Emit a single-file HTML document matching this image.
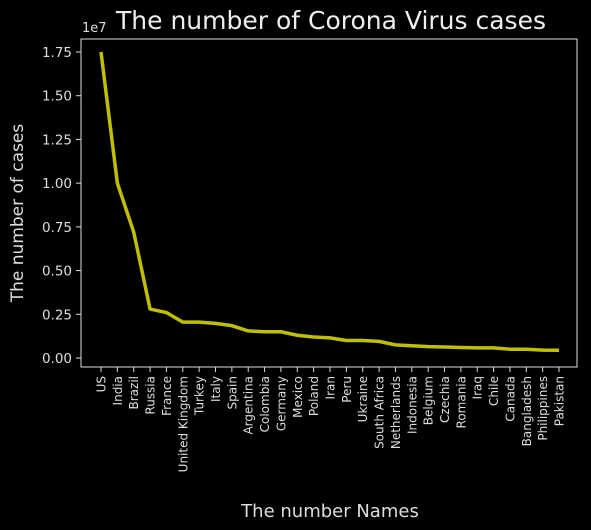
<!DOCTYPE html>
<html><head><meta charset="utf-8"><style>
html,body{margin:0;padding:0;background:#000;}
svg{display:block;font-family:"DejaVu Sans","Liberation Sans",sans-serif;}
</style></head><body>
<svg id="chart" width="591" height="530" viewBox="0 0 591 530">
<rect width="591" height="530" fill="#000"/>
<text x="331" y="29" fill="#eee" font-size="25" text-anchor="middle">The number of Corona Virus cases</text>
<text x="82" y="32" fill="#ddd" font-size="13">1e7</text>
<text x="330" y="517" fill="#ddd" font-size="18" text-anchor="middle">The number Names</text>
<text transform="translate(23,213) rotate(-90)" fill="#ddd" font-size="17" text-anchor="middle">The number of cases</text>
<g id="ticks"></g>
<path id="line" fill="none" stroke="#bfbf00" stroke-width="3.5" stroke-linejoin="round"/>
<rect x="81" y="39" width="496" height="328" fill="none" stroke="#ddd" stroke-width="1"/>
</svg>
<script>
const categories=["US","India","Brazil","Russia","France","United Kingdom","Turkey","Italy","Spain","Argentina","Colombia","Germany","Mexico","Poland","Iran","Peru","Ukraine","South Africa","Netherlands","Indonesia","Belgium","Czechia","Romania","Iraq","Chile","Canada","Bangladesh","Philippines","Pakistan"];
const cases=[17500000,10000000,7200000,2800000,2600000,2050000,2050000,1980000,1850000,1550000,1500000,1500000,1300000,1200000,1150000,1000000,1000000,950000,750000,700000,650000,630000,600000,580000,580000,500000,500000,450000,440000];
const yTicks=[0,2500000,5000000,7500000,10000000,12500000,15000000,17500000];
const yTickLabels=["0.00","0.25","0.50","0.75","1.00","1.25","1.50","1.75"];
const NS="http://www.w3.org/2000/svg";
const x=i=>101+i*(559-101)/(categories.length-1);
const y=v=>358-v*(358-52)/17500000;
const g=document.getElementById('ticks');
yTicks.forEach((t,i)=>{
 const l=document.createElementNS(NS,'line');
 l.setAttribute('x1',76);l.setAttribute('x2',81);l.setAttribute('y1',y(t));l.setAttribute('y2',y(t));l.setAttribute('stroke','#ddd');
 
 
 g.appendChild(l);
 const tx=document.createElementNS(NS,'text');
 tx.setAttribute('x',72);tx.setAttribute('y',y(t)+5);tx.setAttribute('fill','#ddd');tx.setAttribute('font-size','13.5');tx.setAttribute('text-anchor','end');
 tx.textContent=yTickLabels[i];
 
 
 g.appendChild(tx);
});
categories.forEach((c,i)=>{
 const l=document.createElementNS(NS,'line');
 l.setAttribute('x1',x(i));l.setAttribute('x2',x(i));l.setAttribute('y1',367);l.setAttribute('y2',372);l.setAttribute('stroke','#ddd');
 
 
 g.appendChild(l);
 const tx=document.createElementNS(NS,'text');
 tx.setAttribute('transform','translate('+(x(i)+4.5)+',376) rotate(-90)');
 tx.setAttribute('fill','#ddd');tx.setAttribute('font-size','12');tx.setAttribute('text-anchor','end');
 tx.textContent=c;
 
 
 g.appendChild(tx);
});
document.getElementById('line').setAttribute('d',cases.map((v,i)=>(i?'L':'M')+x(i)+','+y(v)).join(' '));
</script>
</body></html>
